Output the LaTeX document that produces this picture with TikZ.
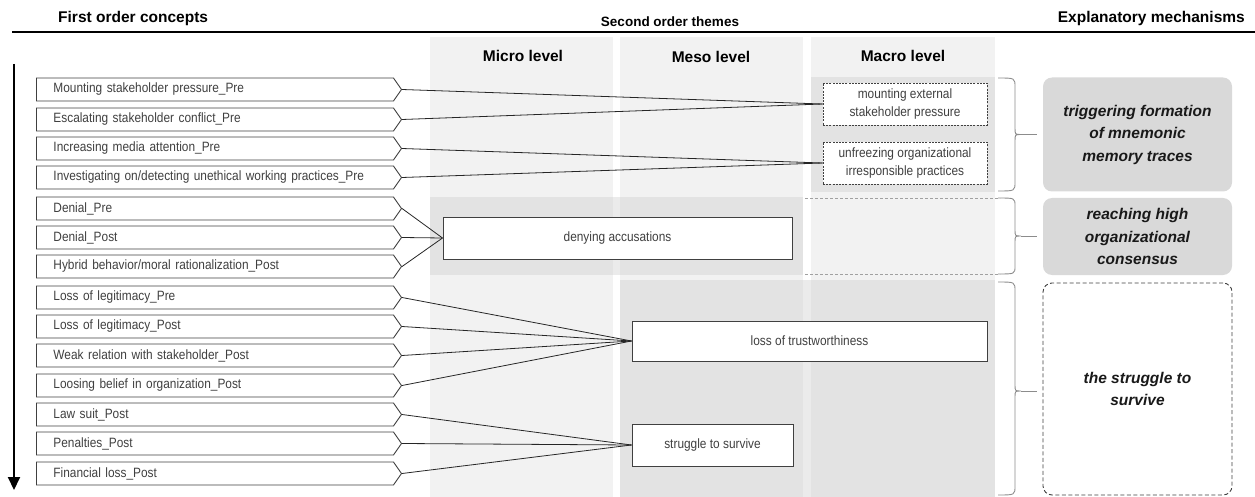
\documentclass[tikz,border=0pt]{standalone}
\usepackage{fontspec}
\setmainfont{Liberation Sans}
\newfontfamily\narrowsans{Liberation Sans}[FakeStretch=0.88]
\usetikzlibrary{shapes.symbols,arrows.meta}

\definecolor{colbg}{HTML}{F2F2F2}
\definecolor{bandbg}{HTML}{E3E3E3}
\definecolor{gapbg}{HTML}{EBEBEB}
\definecolor{mechbg}{HTML}{D9D9D9}
\definecolor{ink}{HTML}{404040}
\definecolor{wirec}{HTML}{262626}
\definecolor{bracegrey}{HTML}{8C8C8C}
\definecolor{dashgrey}{HTML}{A0A0A0}

\tikzset{
  concept/.style={shape=signal, signal to=east, signal pointer angle=110,
    draw=ink, line width=0.9pt, fill=white, text=ink,
    font=\narrowsans\fontsize{13.5}{15}\selectfont,
    text width=323pt, align=left, inner xsep=17pt, inner ysep=0pt,
    minimum height=23pt, anchor=west},
  theme/.style={draw=ink, line width=1pt, fill=white, text=ink,
    font=\narrowsans\fontsize{13.5}{18}\selectfont, inner sep=0pt, align=center},
  themedash/.style={theme, line width=0.9pt, dash pattern=on 2pt off 1.2pt},
  mech/.style={rounded corners=9pt, fill=mechbg, text=black!90,
    font=\bfseries\itshape\fontsize{15.5}{22.5}\selectfont,
    align=center, inner sep=0pt, minimum width=189pt},
  header/.style={font=\bfseries\fontsize{15.5}{18}\selectfont, inner sep=0pt},
  levelhead/.style={font=\bfseries\fontsize{15.5}{18}\selectfont, inner sep=0pt},
  wire/.style={draw=wirec, line width=0.8pt},
  bracepath/.style={draw=bracegrey, line width=0.9pt},
}

\begin{document}
\begin{tikzpicture}[x=1pt,y=-1pt]
\useasboundingbox (0,0) rectangle (1255,497);

% column backgrounds
\fill[colbg] (430,37) rectangle (613,497);
\fill[colbg] (620,37) rectangle (803,497);
\fill[colbg] (811,37) rectangle (995,497);
% shaded bands
\fill[bandbg] (811,77) rectangle (995,192);
\fill[bandbg] (430,197) rectangle (803,275);
\fill[gapbg] (613,197) rectangle (620,275);
\fill[bandbg] (620,280) rectangle (995,497);
\fill[gapbg] (803,280) rectangle (811,497);
\draw[dashgrey, line width=0.8pt, dash pattern=on 3pt off 2pt] (805,198) -- (1000,198);
\draw[dashgrey, line width=0.8pt, dash pattern=on 3pt off 2pt] (805,274) -- (1000,274);

% headings
\node[header, anchor=base west] (h1) at (58,22.3) {First order concepts};
\node[header, anchor=base, font=\bfseries\fontsize{13.5}{16}\selectfont] (h2) at (670,27) {Second order themes};
\node[header, anchor=base east] (h3) at (1245,22.3) {Explanatory mechanisms};
\draw[line width=1.5pt] (12,32) -- (1255,32);

\node[levelhead] (l1) at (523,56) {Micro level};
\node[levelhead] (l2) at (711,57) {Meso level};
\node[levelhead] (l3) at (903,56) {Macro level};

% time axis
\draw[line width=2pt, -{Triangle[width=12pt,length=13pt]}] (14,64) -- (14,490);

% first order concepts
\node[concept] (c1)  at (36,89.5)  {Mounting stakeholder pressure\_Pre};
\node[concept] (c2)  at (36,119.5) {Escalating stakeholder conflict\_Pre};
\node[concept] (c3)  at (36,148.5) {Increasing media attention\_Pre};
\node[concept] (c4)  at (36,177.5) {Investigating on/detecting unethical working practices\_Pre};
\node[concept] (c5)  at (36,208.5) {Denial\_Pre};
\node[concept] (c6)  at (36,237.5) {Denial\_Post};
\node[concept] (c7)  at (36,266.5) {Hybrid behavior/moral rationalization\_Post};
\node[concept] (c8)  at (36,297.5) {Loss of legitimacy\_Pre};
\node[concept] (c9)  at (36,326.5) {Loss of legitimacy\_Post};
\node[concept] (c10) at (36,355.5) {Weak relation with stakeholder\_Post};
\node[concept] (c11) at (36,385.5) {Loosing belief in organization\_Post};
\node[concept] (c12) at (36,414.5) {Law suit\_Post};
\node[concept] (c13) at (36,443.5) {Penalties\_Post};
\node[concept] (c14) at (36,473.5) {Financial loss\_Post};

% second order themes
\node[themedash, minimum width=164pt, minimum height=42pt] (t1) at (905,104) {mounting external\\stakeholder pressure};
\node[themedash, minimum width=164pt, minimum height=42pt] (t2) at (905,163) {unfreezing organizational\\irresponsible practices};
\node[theme, minimum width=349pt, minimum height=42pt] (t3) at (617.5,238) {denying accusations};
\node[theme, minimum width=355pt, minimum height=40pt] (t4) at (809.5,341) {loss of trustworthiness};
\node[theme, minimum width=161pt, minimum height=42pt] (t5) at (712.5,445) {struggle to survive};

% connectors
\foreach \c in {c1,c2} \draw[wire] (\c.east) -- (t1.west);
\foreach \c in {c3,c4} \draw[wire] (\c.east) -- (t2.west);
\foreach \c in {c5,c6,c7} \draw[wire] (\c.east) -- (t3.west);
\foreach \c in {c8,c9,c10,c11} \draw[wire] (\c.east) -- (t4.west);
\foreach \c in {c12,c13,c14} \draw[wire] (\c.east) -- (t5.west);

% braces
\draw[bracepath] (998,78) .. controls (1015,78) .. (1015,87) -- (1015,128)
  .. controls (1015,134.5) .. (1021,134.5) .. controls (1015,134.5) .. (1015,141)
  -- (1015,182) .. controls (1015,191) .. (998,191);
\draw[bracepath] (1021,134.5) -- (1037,134.5);
\draw[bracepath] (998,198) .. controls (1015,198) .. (1015,206) -- (1015,230)
  .. controls (1015,236) .. (1021,236) .. controls (1015,236) .. (1015,242)
  -- (1015,266) .. controls (1015,274) .. (998,274);
\draw[bracepath] (1021,236) -- (1037,236);
\draw[bracepath] (998,282) .. controls (1015,282) .. (1015,291) -- (1015,385)
  .. controls (1015,391) .. (1021,391) .. controls (1015,391) .. (1015,397)
  -- (1015,486) .. controls (1015,495) .. (998,495);
\draw[bracepath] (1021,391) -- (1037,391);

% explanatory mechanisms
\node[mech, minimum height=114pt] (m1) at (1137.5,134.5) {triggering formation\\of mnemonic\\memory traces};
\node[mech, minimum height=77pt] (m2) at (1137.5,236.5) {reaching high\\organizational\\consensus};
\node[mech, fill=white, draw=ink, line width=0.9pt, dash pattern=on 4pt off 2.5pt, minimum height=212pt] (m3) at (1137.5,389) {the struggle to\\survive};

\end{tikzpicture}
\end{document}
